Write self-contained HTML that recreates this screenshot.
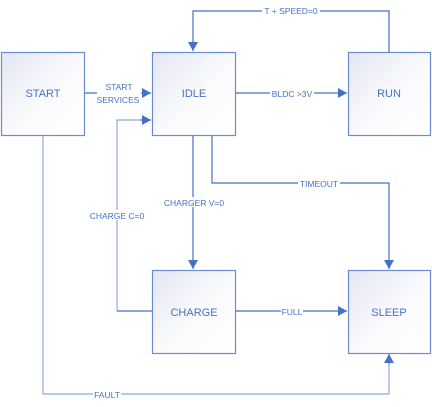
<!DOCTYPE html>
<html><head><style>
html,body{margin:0;padding:0;background:#fff;}
svg{display:block;font-family:"Liberation Sans",sans-serif;}
</style></head><body>
<svg width="432" height="407" viewBox="0 0 432 407">
<defs>
<linearGradient id="g" x1="0" y1="0" x2="1" y2="1">
<stop offset="0" stop-color="#e4e6f3"/><stop offset="0.55" stop-color="#fbfbfd"/><stop offset="1" stop-color="#ffffff"/>
</linearGradient>
<marker id="a" markerWidth="10" markerHeight="10" refX="9" refY="5" orient="auto" markerUnits="userSpaceOnUse">
<path d="M0,0 L9,5 L0,10 z" fill="#4472c4"/></marker>
</defs>
<g fill="none" stroke-width="1.2">
<path d="M85,93 H151" stroke="#4472c4" marker-end="url(#a)"/>
<path d="M117,311 V120 H151" stroke="#8faadc" />
<path d="M140,120 H151" stroke="#4472c4" marker-end="url(#a)"/>
<path d="M236,93 H347" stroke="#4472c4" marker-end="url(#a)"/>
<path d="M389,52 V11 H193 V51" stroke="#4472c4" marker-end="url(#a)"/>
<path d="M193,136 V269" stroke="#4472c4" marker-end="url(#a)"/>
<path d="M212,136 V183 H389 V269" stroke="#4472c4" marker-end="url(#a)"/>
<path d="M117,311 H152" stroke="#4472c4"/>
<path d="M236,311 H347" stroke="#4472c4" marker-end="url(#a)"/>
<path d="M43,136 V394 H389 V354" stroke="#8faadc"/>
<path d="M389,364 V354" stroke="#4472c4" marker-end="url(#a)"/>
</g>
<g fill="url(#g)" stroke="#6c8cd0" stroke-width="1.2">
<rect x="1.5" y="52.5" width="83" height="83"/>
<rect x="152.5" y="52.5" width="83" height="83"/>
<rect x="348.5" y="52.5" width="82" height="83"/>
<rect x="152.5" y="270.5" width="83" height="83"/>
<rect x="348.5" y="270.5" width="82" height="83"/>
</g>
<g fill="#4472c4" font-size="11" text-anchor="middle">
<text x="43" y="97">START</text>
<text x="194" y="97">IDLE</text>
<text x="389" y="97">RUN</text>
<text x="194" y="316">CHARGE</text>
<text x="389" y="316">SLEEP</text>
</g>
<g font-size="8.5" text-anchor="middle" fill="#4472c4">
<rect x="97" y="80" width="44" height="24" fill="#fff"/>
<text x="119" y="90">START</text>
<text x="118" y="103">SERVICES</text>
<rect x="270" y="88" width="44" height="10" fill="#fff"/>
<text x="292" y="97">BLDC &gt;3V</text>
<rect x="262" y="6" width="58" height="10" fill="#fff"/>
<text x="291" y="14">T + SPEED=0</text>
<rect x="298" y="178" width="42" height="10" fill="#fff"/>
<text x="319" y="187">TIMEOUT</text>
<rect x="162" y="197" width="64" height="10" fill="#fff"/>
<text x="194" y="206">CHARGER V=0</text>
<rect x="88" y="210" width="58" height="10" fill="#fff"/>
<text x="117" y="219">CHARGE C=0</text>
<rect x="281" y="306" width="22" height="10" fill="#fff"/>
<text x="292" y="315">FULL</text>
<rect x="93" y="389" width="28" height="10" fill="#fff"/>
<text x="107" y="398">FAULT</text>
</g>
</svg>
</body></html>
